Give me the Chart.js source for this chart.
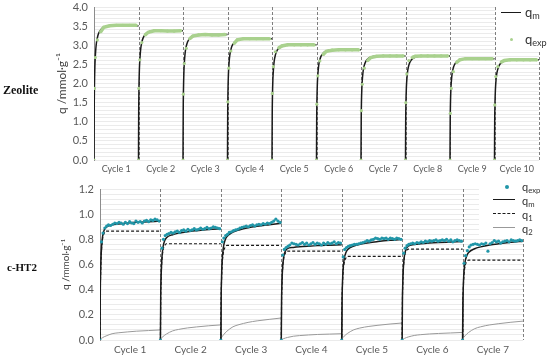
<!DOCTYPE html>
<html>
<head>
<meta charset="utf-8">
<script src="https://cdn.jsdelivr.net/npm/chart.js@4"></script>
<style>
  body { margin: 0; width: 550px; height: 355px; background: #fff; position: relative; overflow: hidden; font-family: Lato, sans-serif; }
  .panel { position: absolute; left: 0; width: 550px; }
  .name { position: absolute; font-family: "Liberation Serif", serif; font-weight: bold; color: #111; filter: grayscale(100%); }
  .legend { position: absolute; background: #fff; }
  .legend span { position: absolute; color: #333; line-height: 1; white-space: nowrap; filter: grayscale(100%); }
  .legend sub { font-size: 70%; vertical-align: -2px; }
  .sym { position: absolute; }
</style>
</head>
<body>
<div class="panel" style="top:0;height:180px"><canvas id="zeo"></canvas></div>
<div class="panel" style="top:178px;height:177px"><canvas id="cht"></canvas></div>

<div class="name" style="left:3px;top:83px;font-size:12px">Zeolite</div>
<div class="name" style="left:7px;top:261px;font-size:11px">c-HT2</div>

<div class="legend" style="left:496px;top:0;width:54px;height:50px">
  <div class="sym" style="left:5px;top:12px;width:20px;border-top:1.5px solid #1a1a1a"></div>
  <span style="left:29px;top:6px;font-size:13px">q<sub>m</sub></span>
  <div class="sym" style="left:14px;top:38px;width:3px;height:3px;border-radius:50%;background:#a9d18e"></div>
  <span style="left:29px;top:33px;font-size:13px">q<sub>exp</sub></span>
</div>

<div class="legend" style="left:479px;top:178px;width:71px;height:60px">
  <div class="sym" style="left:26px;top:7px;width:4px;height:4px;border-radius:50%;background:#2196a8"></div>
  <span style="left:43px;top:3px;font-size:11px">q<sub>exp</sub></span>
  <div class="sym" style="left:14px;top:21px;width:22px;border-top:1.5px solid #1a1a1a"></div>
  <span style="left:43px;top:17px;font-size:11px">q<sub>m</sub></span>
  <div class="sym" style="left:14px;top:35px;width:22px;border-top:1.2px dashed #1a1a1a"></div>
  <span style="left:43px;top:31px;font-size:11px">q<sub>1</sub></span>
  <div class="sym" style="left:14px;top:49px;width:22px;border-top:1px solid #999"></div>
  <span style="left:43px;top:45px;font-size:11px">q<sub>2</sub></span>
</div>

<script>
// ---- Zeolite: 10 cycles ----
const zeoCycles = ['Cycle 1', 'Cycle 2', 'Cycle 3', 'Cycle 4', 'Cycle 5', 'Cycle 6', 'Cycle 7', 'Cycle 8', 'Cycle 9', 'Cycle 10'];
// time inside a cycle, as a fraction of the cycle
const zeoTm = [0, 0.005, 0.01, 0.02, 0.035, 0.05, 0.075, 0.1, 0.15, 0.2, 0.3, 0.5, 1.0];
const zeoQm = [
  [0, 1.40, 1.93, 2.46, 2.81, 3.02, 3.19, 3.30, 3.40, 3.46, 3.50, 3.51, 3.51],
  [0, 1.35, 1.86, 2.37, 2.70, 2.91, 3.08, 3.18, 3.28, 3.33, 3.37, 3.38, 3.38],
  [0, 1.31, 1.80, 2.30, 2.62, 2.82, 2.98, 3.08, 3.18, 3.23, 3.27, 3.28, 3.28],
  [0, 1.27, 1.74, 2.22, 2.54, 2.73, 2.88, 2.98, 3.07, 3.12, 3.16, 3.17, 3.17],
  [0, 1.20, 1.66, 2.11, 2.41, 2.59, 2.74, 2.83, 2.92, 2.96, 3.00, 3.01, 3.01],
  [0, 1.15, 1.58, 2.02, 2.30, 2.48, 2.62, 2.71, 2.79, 2.84, 2.87, 2.88, 2.88],
  [0, 1.09, 1.50, 1.90, 2.18, 2.34, 2.48, 2.56, 2.64, 2.68, 2.71, 2.72, 2.72],
  [0, 1.09, 1.50, 1.90, 2.18, 2.34, 2.48, 2.56, 2.64, 2.68, 2.71, 2.72, 2.72],
  [0, 1.06, 1.46, 1.86, 2.12, 2.28, 2.41, 2.49, 2.57, 2.61, 2.64, 2.65, 2.65],
  [0, 1.05, 1.44, 1.83, 2.10, 2.25, 2.38, 2.46, 2.54, 2.58, 2.61, 2.62, 2.62]
];
const zeoTexp = [0, 0.007, 0.03, 0.075, 0.15, 0.22, 0.35, 0.5, 0.65, 0.8, 0.95];
const zeoQexp = [
  [0, 1.87, 2.68, 3.14, 3.35, 3.47, 3.51, 3.52, 3.52, 3.52, 3.52],
  [0, 1.87, 2.62, 3.07, 3.27, 3.34, 3.38, 3.38, 3.37, 3.37, 3.38],
  [0, 1.72, 2.52, 2.92, 3.17, 3.24, 3.27, 3.28, 3.27, 3.27, 3.28],
  [0, 1.52, 2.40, 2.85, 3.05, 3.14, 3.17, 3.17, 3.17, 3.17, 3.17],
  [0, 1.74, 2.44, 2.83, 2.93, 2.98, 3.01, 3.01, 3.01, 3.01, 3.01],
  [0, 1.46, 2.20, 2.59, 2.76, 2.84, 2.87, 2.88, 2.88, 2.88, 2.88],
  [0, 1.29, 1.98, 2.40, 2.60, 2.68, 2.71, 2.72, 2.72, 2.72, 2.72],
  [0, 1.50, 2.25, 2.60, 2.68, 2.71, 2.72, 2.72, 2.72, 2.72, 2.72],
  [0, 1.22, 1.87, 2.31, 2.55, 2.62, 2.65, 2.65, 2.65, 2.65, 2.65],
  [0, 1.44, 2.18, 2.44, 2.56, 2.60, 2.62, 2.62, 2.62, 2.62, 2.62]
];

// ---- c-HT2: 7 cycles ----
const htCycles = ['Cycle 1', 'Cycle 2', 'Cycle 3', 'Cycle 4', 'Cycle 5', 'Cycle 6', 'Cycle 7'];
const htTm = [0, 0.005, 0.01, 0.02, 0.04, 0.07, 0.1, 0.2, 0.3, 0.45, 0.6, 0.8, 1.0];
const htQm = [
  [0, 0.396, 0.528, 0.687, 0.814, 0.874, 0.897, 0.915, 0.922, 0.929, 0.935, 0.940, 0.945],
  [0, 0.352, 0.471, 0.615, 0.730, 0.788, 0.813, 0.837, 0.849, 0.861, 0.869, 0.878, 0.885],
  [0, 0.350, 0.469, 0.613, 0.731, 0.793, 0.822, 0.857, 0.874, 0.892, 0.904, 0.916, 0.927],
  [0, 0.322, 0.429, 0.559, 0.661, 0.708, 0.726, 0.736, 0.741, 0.746, 0.750, 0.753, 0.756],
  [0, 0.308, 0.413, 0.539, 0.642, 0.695, 0.719, 0.746, 0.760, 0.773, 0.782, 0.792, 0.800],
  [0, 0.329, 0.439, 0.572, 0.677, 0.727, 0.746, 0.758, 0.764, 0.770, 0.774, 0.778, 0.782],
  [0, 0.296, 0.396, 0.517, 0.617, 0.670, 0.695, 0.725, 0.740, 0.755, 0.765, 0.776, 0.785]
];
const htQ1 = [
  [0, 0.390, 0.520, 0.675, 0.796, 0.848, 0.865, 0.865, 0.865, 0.865, 0.865, 0.865, 0.865],
  [0, 0.344, 0.459, 0.597, 0.704, 0.750, 0.765, 0.765, 0.765, 0.765, 0.765, 0.765, 0.765],
  [0, 0.338, 0.451, 0.587, 0.692, 0.737, 0.752, 0.752, 0.752, 0.752, 0.752, 0.752, 0.752],
  [0, 0.318, 0.424, 0.551, 0.650, 0.692, 0.706, 0.706, 0.706, 0.706, 0.706, 0.706, 0.706],
  [0, 0.299, 0.399, 0.519, 0.612, 0.652, 0.665, 0.665, 0.665, 0.665, 0.665, 0.665, 0.665],
  [0, 0.325, 0.433, 0.563, 0.664, 0.708, 0.722, 0.722, 0.722, 0.722, 0.722, 0.722, 0.722],
  [0, 0.286, 0.381, 0.495, 0.584, 0.622, 0.635, 0.635, 0.635, 0.635, 0.635, 0.635, 0.635]
];
const htQ2 = [
  [0, 0.006, 0.008, 0.012, 0.018, 0.026, 0.032, 0.050, 0.057, 0.064, 0.070, 0.075, 0.080],
  [0, 0.008, 0.012, 0.018, 0.026, 0.038, 0.048, 0.072, 0.084, 0.096, 0.104, 0.113, 0.120],
  [0, 0.012, 0.018, 0.026, 0.039, 0.056, 0.070, 0.105, 0.122, 0.140, 0.152, 0.164, 0.175],
  [0, 0.004, 0.005, 0.008, 0.011, 0.016, 0.020, 0.030, 0.035, 0.040, 0.044, 0.047, 0.050],
  [0, 0.009, 0.014, 0.020, 0.030, 0.043, 0.054, 0.081, 0.095, 0.108, 0.117, 0.127, 0.135],
  [0, 0.004, 0.006, 0.009, 0.013, 0.019, 0.024, 0.036, 0.042, 0.048, 0.052, 0.056, 0.060],
  [0, 0.010, 0.015, 0.022, 0.033, 0.048, 0.060, 0.090, 0.105, 0.120, 0.130, 0.141, 0.150]
];
const htTexp = [0, 0.025, 0.05, 0.08, 0.11, 0.14, 0.175, 0.21, 0.245, 0.28, 0.315, 0.35, 0.385, 0.42, 0.455,
  0.49, 0.525, 0.56, 0.595, 0.63, 0.665, 0.7, 0.735, 0.77, 0.805, 0.84, 0.875, 0.91, 0.945, 0.98];
const htQexp = [
  [0, 0.78, 0.85, 0.89, 0.905, 0.915, 0.91, 0.92, 0.93, 0.925, 0.935, 0.93, 0.92, 0.935, 0.925,
   0.94, 0.93, 0.925, 0.945, 0.935, 0.94, 0.93, 0.945, 0.95, 0.94, 0.955, 0.95, 0.96, 0.955, 0.945],
  [0, 0.73, 0.80, 0.83, 0.84, 0.845, 0.855, 0.85, 0.86, 0.865, 0.855, 0.87, 0.875, 0.865, 0.88,
   0.87, 0.875, 0.885, 0.875, 0.88, 0.89, 0.88, 0.885, 0.895, 0.885, 0.89, 0.90, 0.895, 0.89, 0.885],
  [0, 0.78, 0.81, 0.83, 0.84, 0.855, 0.86, 0.87, 0.875, 0.88, 0.89, 0.895, 0.90, 0.905, 0.90,
   0.91, 0.915, 0.905, 0.915, 0.92, 0.915, 0.925, 0.92, 0.93, 0.925, 0.935, 0.945, 0.96, 0.945, 0.935],
  [0, 0.675, 0.72, 0.735, 0.745, 0.755, 0.77, 0.765, 0.76, 0.755, 0.765, 0.775, 0.76, 0.77, 0.755,
   0.765, 0.775, 0.76, 0.77, 0.765, 0.755, 0.77, 0.76, 0.775, 0.765, 0.77, 0.78, 0.765, 0.775, 0.77],
  [0, 0.66, 0.72, 0.735, 0.745, 0.75, 0.755, 0.76, 0.76, 0.765, 0.77, 0.775, 0.78, 0.79, 0.785,
   0.795, 0.80, 0.81, 0.805, 0.80, 0.81, 0.805, 0.81, 0.80, 0.81, 0.805, 0.80, 0.81, 0.805, 0.80],
  [0, 0.69, 0.73, 0.75, 0.76, 0.765, 0.77, 0.765, 0.775, 0.77, 0.78, 0.775, 0.785, 0.78, 0.79,
   0.785, 0.79, 0.795, 0.785, 0.79, 0.795, 0.79, 0.80, 0.785, 0.795, 0.78, 0.79, 0.795, 0.79, 0.785],
  [0, 0.61, 0.67, 0.71, 0.74, 0.755, 0.76, 0.765, 0.76, 0.755, 0.765, 0.76, 0.77, 0.706, 0.765,
   0.775, 0.79, 0.78, 0.785, 0.77, 0.78, 0.785, 0.79, 0.78, 0.795, 0.79, 0.785, 0.79, 0.795, 0.79]
];

Chart.defaults.font.family = 'Lato, sans-serif';
Chart.defaults.color = '#595959';

// one x unit per cycle; a null point breaks the line between cycles
function series(times, rows) {
  const pts = [];
  rows.forEach((row, c) => {
    row.forEach((q, k) => pts.push({ x: c + times[k], y: q, k: k }));
    pts.push({ x: c + 1, y: null, k: -1 });
  });
  return pts;
}

const cycleLines = {
  id: 'cycleLines',
  beforeDatasetsDraw(chart) {
    const { ctx, chartArea, scales } = chart;
    ctx.save();
    ctx.strokeStyle = '#7f7f7f';
    ctx.lineWidth = 1;
    ctx.setLineDash([3, 2]);
    for (let i = 1; i <= scales.x.max; i++) {
      const px = Math.round(scales.x.getPixelForValue(i)) + 0.5;
      ctx.beginPath();
      ctx.moveTo(px, chartArea.top);
      ctx.lineTo(px, chartArea.bottom);
      ctx.stroke();
    }
    ctx.restore();
  }
};

// p: panel geometry (axis sizes, fonts, paddings)
function options(labels, yMax, yStep, yMajor, p) {
  return {
    responsive: true,
    maintainAspectRatio: false,
    animation: false,
    layout: { padding: { left: p.left, right: p.right, top: 0, bottom: 0 } },
    plugins: { legend: { display: false }, tooltip: { enabled: false } },
    scales: {
      x: {
        type: 'linear',
        min: 0,
        max: labels.length,
        afterBuildTicks: s => { s.ticks = labels.map((l, i) => ({ value: i + 0.5 })); },
        afterFit: s => { s.height = p.xHeight; },
        ticks: { autoSkip: false, maxRotation: 0, padding: 4, font: { size: p.xFont }, callback: (v, i) => labels[i] },
        grid: { display: false, drawTicks: false },
        border: { display: false }
      },
      y: {
        min: 0,
        max: yMax,
        afterFit: s => { s.width = p.yWidth; s.paddingTop = p.top; s.paddingBottom = 0; },
        ticks: {
          stepSize: yStep,
          autoSkip: false,
          padding: 6,
          font: { size: 11 },
          callback: v => {
            const r = v / yMajor;
            return Math.abs(r - Math.round(r)) < 1e-6 ? v.toFixed(1) : '';
          }
        },
        grid: { color: '#ebebeb', drawTicks: false },
        border: { color: '#8c8c8c', width: 1 },
        title: { display: true, text: 'q /mmol·g⁻¹', color: '#404040', font: { size: p.titleFont }, padding: 0 }
      }
    }
  };
}

// Zeolite panel
const zeoExpPts = series(zeoTexp, zeoQexp);
new Chart(document.getElementById('zeo'), {
  type: 'line',
  data: {
    datasets: [
      {
        label: 'qexp',
        data: zeoExpPts,
        borderColor: '#a9d18e',
        backgroundColor: '#a9d18e',
        borderWidth: 3.5,
        pointRadius: 1.6,
        pointBorderWidth: 0,
        segment: { borderColor: ctx => zeoExpPts[ctx.p0DataIndex].k >= 4 ? '#a9d18e' : 'transparent' }
      },
      {
        label: 'qm',
        data: series(zeoTm, zeoQm),
        borderColor: '#1a1a1a',
        borderWidth: 1.5,
        pointRadius: 0,
        cubicInterpolationMode: 'monotone'
      }
    ]
  },
  options: options(zeoCycles, 4, 0.1, 0.5,
    { left: 55, right: 11, top: 7, xHeight: 20, yWidth: 39, xFont: 9, titleFont: 12 }),
  plugins: [cycleLines]
});

// c-HT2 panel
new Chart(document.getElementById('cht'), {
  type: 'line',
  data: {
    datasets: [
      {
        label: 'qexp',
        data: series(htTexp, htQexp),
        showLine: false,
        backgroundColor: '#2196a8',
        borderColor: '#2196a8',
        pointRadius: 1.6,
        pointBorderWidth: 0
      },
      {
        label: 'qm',
        data: series(htTm, htQm),
        borderColor: '#1a1a1a',
        borderWidth: 1.5,
        pointRadius: 0,
        cubicInterpolationMode: 'monotone'
      },
      {
        label: 'q1',
        data: series(htTm, htQ1),
        borderColor: '#1a1a1a',
        borderWidth: 1.2,
        borderDash: [3, 2],
        pointRadius: 0,
        cubicInterpolationMode: 'monotone'
      },
      {
        label: 'q2',
        data: series(htTm, htQ2),
        borderColor: '#9a9a9a',
        borderWidth: 1,
        pointRadius: 0,
        cubicInterpolationMode: 'monotone'
      }
    ]
  },
  options: options(htCycles, 1.2, 0.04, 0.2,
    { left: 60, right: 27, top: 11, xHeight: 15, yWidth: 40, xFont: 10, titleFont: 10 }),
  plugins: [cycleLines]
});
</script>
</body>
</html>
